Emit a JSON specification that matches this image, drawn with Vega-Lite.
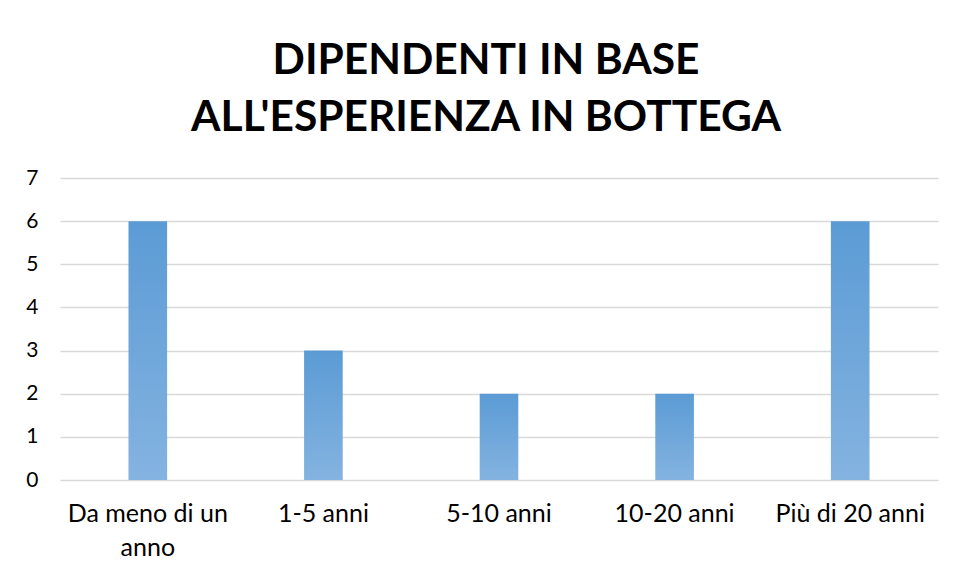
{
  "$schema": "https://vega.github.io/schema/vega-lite/v6.json",
  "width": 878,
  "height": 302,
  "autosize": {"type": "none"},
  "padding": {"left": 60, "top": 178, "right": 17, "bottom": 99},
  "background": "white",
  "title": {
    "text": ["DIPENDENTI IN BASE", "ALL'ESPERIENZA IN BOTTEGA"],
    "font": "Lato",
    "fontSize": 42.5,
    "fontWeight": "bold",
    "color": "#000000",
    "lineHeight": 57,
    "anchor": "middle",
    "frame": "group",
    "dx": -13,
    "offset": 28
  },
  "data": {
    "values": [
      {"categoria": "Da meno di un anno", "valore": 6},
      {"categoria": "1-5 anni", "valore": 3},
      {"categoria": "5-10 anni", "valore": 2},
      {"categoria": "10-20 anni", "valore": 2},
      {"categoria": "Più di 20 anni", "valore": 6}
    ]
  },
  "mark": {
    "type": "bar",
    "color": {
      "gradient": "linear",
      "x1": 0, "y1": 0, "x2": 0, "y2": 1,
      "stops": [
        {"offset": 0, "color": "#5B9BD5"},
        {"offset": 1, "color": "#84B3E0"}
      ]
    }
  },
  "encoding": {
    "x": {
      "field": "categoria",
      "type": "nominal",
      "sort": null,
      "scale": {"paddingInner": 0.78, "paddingOuter": 0.39},
      "axis": {
        "title": null,
        "labelAngle": 0,
        "labelFont": "Lato",
        "labelFontSize": 25,
        "labelColor": "#000000",
        "labelPadding": 21,
        "labelLineHeight": 34,
        "labelBaseline": "top",
        "ticks": false,
        "domain": false,
        "grid": false,
        "labelExpr": "datum.label == 'Da meno di un anno' ? ['Da meno di un', 'anno'] : datum.label"
      }
    },
    "y": {
      "field": "valore",
      "type": "quantitative",
      "scale": {"domain": [0, 7], "nice": false},
      "axis": {
        "title": null,
        "values": [0, 1, 2, 3, 4, 5, 6, 7],
        "labelFont": "Lato",
        "labelFontSize": 21,
        "labelColor": "#000000",
        "labelPadding": 22,
        "ticks": false,
        "domain": false,
        "grid": true,
        "gridColor": "#D9D9D9",
        "gridWidth": 1.5
      }
    }
  },
  "config": {
    "view": {"stroke": null}
  }
}
